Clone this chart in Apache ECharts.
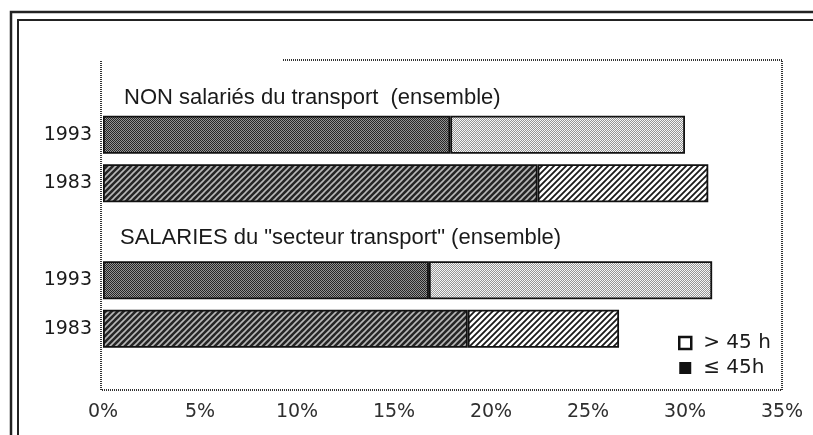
<!DOCTYPE html>
<html>
<head>
<meta charset="utf-8">
<script src="https://cdn.jsdelivr.net/npm/echarts@6/dist/echarts.min.js"></script>
<style>
  html, body { margin: 0; padding: 0; background: #fff; }
  #chart { width: 813px; height: 435px; }
</style>
</head>
<body>
<div id="chart"></div>
<script>
// ---- data ----
const categories = ['groupNon', 'non1993', 'non1983', 'groupSal', 'sal1993', 'sal1983'];
const yearLabels = ['', '1993', '1983', '', '1993', '1983'];
const groupTitles = ['NON salariés du transport  (ensemble)', 'SALARIES du "secteur transport" (ensemble)'];
const seriesNames = ['≤ 45h', '> 45 h'];
const le45 = [null, 17.9, 22.4, null, 16.8, 18.8];
const gt45 = [null, 12.1, 8.8, null, 14.6, 7.8];
const rowKind = ['', 'dots', 'hatch', '', 'dots', 'hatch'];
const xTicks = [0, 5, 10, 15, 20, 25, 30, 35];

// ---- patterns ----
function dots(c1, c2) {
  const cv = document.createElement('canvas');
  cv.width = 2; cv.height = 2;
  const g = cv.getContext('2d');
  g.fillStyle = c1; g.fillRect(0, 0, 2, 2);
  g.fillStyle = c2; g.fillRect(1, 0, 1, 1); g.fillRect(0, 1, 1, 1);
  return cv;
}
function hatch(bg, fg, lw) {
  const s = 6;
  const cv = document.createElement('canvas');
  cv.width = s; cv.height = s;
  const g = cv.getContext('2d');
  g.fillStyle = bg; g.fillRect(0, 0, s, s);
  g.strokeStyle = fg; g.lineWidth = lw;
  g.beginPath();
  g.moveTo(0, s); g.lineTo(s, 0);
  g.moveTo(-1, 1); g.lineTo(1, -1);
  g.moveTo(s - 1, s + 1); g.lineTo(s + 1, s - 1);
  g.stroke();
  return cv;
}
const patterns = {
  dark: {
    dots: { image: dots('#262626', '#939393'), repeat: 'repeat' },
    hatch: { image: hatch('#262626', '#b8b8b8', 1.6), repeat: 'repeat' }
  },
  light: {
    dots: { image: dots('#f6f6f6', '#959595'), repeat: 'repeat' },
    hatch: { image: hatch('#ffffff', '#1a1a1a', 1.8), repeat: 'repeat' }
  }
};

function buildData(values, tone) {
  return values.map((v, i) => v == null ? '-' : {
    value: v,
    itemStyle: { color: patterns[tone][rowKind[i]] }
  });
}

const chart = echarts.init(document.getElementById('chart'), null, { renderer: 'canvas' });
const sansWide = '"DejaVu Sans", Verdana, sans-serif';
const sansNarrow = '"Liberation Sans", Arial, Helvetica, sans-serif';

chart.setOption({
  animation: false,
  backgroundColor: '#ffffff',
  grid: { left: 103, right: 31, top: 62, height: 291, containLabel: false },
  xAxis: {
    type: 'value',
    min: xTicks[0], max: xTicks[xTicks.length - 1], interval: 5,
    axisLine: { show: false },
    axisTick: { show: false },
    splitLine: { show: false },
    axisLabel: {
      margin: 50,
      color: '#2e2e2e',
      fontSize: 19,
      fontFamily: sansWide,
      formatter: v => v + '%'
    }
  },
  yAxis: {
    type: 'category',
    inverse: true,
    data: categories,
    axisLine: { show: false },
    axisTick: { show: false },
    axisLabel: {
      margin: 11,
      color: '#1a1a1a',
      fontSize: 19,
      fontFamily: sansWide,
      formatter: (v, i) => yearLabels[i]
    }
  },
  legend: {
    orient: 'vertical',
    left: 678,
    top: 331,
    padding: 0,
    itemWidth: 12,
    itemHeight: 12,
    itemGap: 1,
    icon: 'rect',
    selectedMode: false,
    textStyle: { fontSize: 20, lineHeight: 24, color: '#1a1a1a', fontFamily: sansWide, padding: [0, 0, 0, 7] },
    data: [
      { name: seriesNames[1], itemStyle: { color: '#ffffff', borderColor: '#111', borderWidth: 2.5 } },
      { name: seriesNames[0], itemStyle: { color: '#111', borderWidth: 0 } }
    ]
  },
  series: [
    {
      name: seriesNames[0],
      type: 'bar',
      stack: 'total',
      barWidth: 38,
      data: buildData(le45, 'dark'),
      itemStyle: { borderColor: '#111', borderWidth: 1.8 },
      emphasis: { disabled: true }
    },
    {
      name: seriesNames[1],
      type: 'bar',
      stack: 'total',
      barWidth: 38,
      data: buildData(gt45, 'light'),
      itemStyle: { borderColor: '#111', borderWidth: 1.8 },
      emphasis: { disabled: true }
    }
  ],
  graphic: [
    // outer double frame
    { type: 'polyline', silent: true, shape: { points: [[11, 435], [11, 12], [813, 12]] },
      style: { stroke: '#222', lineWidth: 2.5, fill: null } },
    { type: 'polyline', silent: true, shape: { points: [[18, 435], [18, 20], [813, 20]] },
      style: { stroke: '#222', lineWidth: 2, fill: null } },
    // dotted plot frame
    { type: 'polyline', silent: true,
      shape: { points: [[283, 60], [782, 60], [782, 390], [101, 390], [101, 60]] },
      style: { stroke: '#333', lineWidth: 2, lineDash: [1, 1], fill: null } },
    // group titles
    { type: 'text', silent: true, left: 124, top: 87,
      style: { text: groupTitles[0], fontSize: 22, fill: '#1a1a1a', fontFamily: sansNarrow } },
    { type: 'text', silent: true, left: 120, top: 227,
      style: { text: groupTitles[1], fontSize: 22, fill: '#1a1a1a', fontFamily: sansNarrow } }
  ]
});
</script>
</body>
</html>
